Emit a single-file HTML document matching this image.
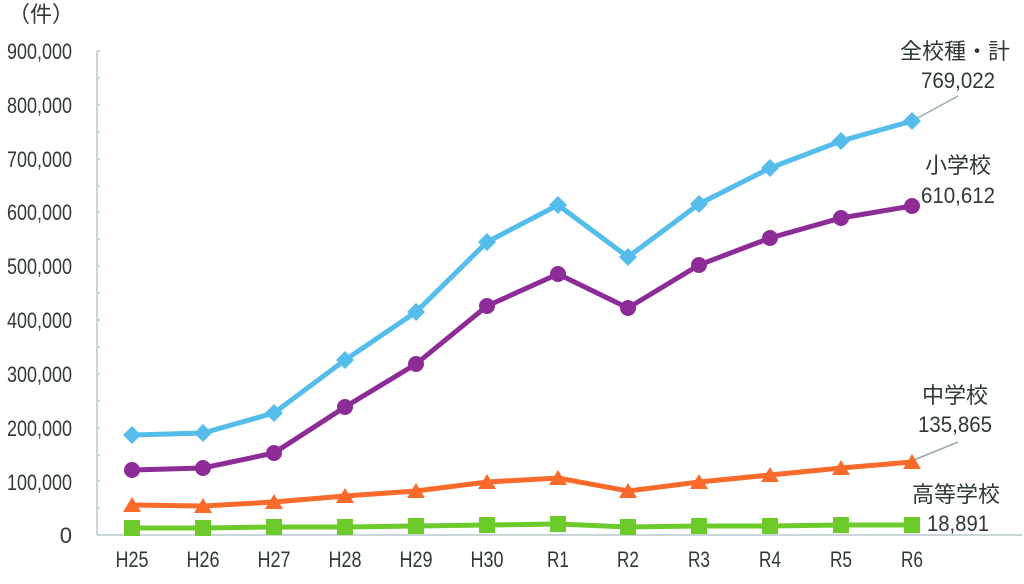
<!DOCTYPE html>
<html><head><meta charset="utf-8"><style>
body{margin:0;background:#fff;}
svg text{font-family:"Liberation Sans","Noto Sans CJK JP",sans-serif;fill:#2e3838;font-size:22px;}
</style></head><body>
<svg width="1024" height="579" xmlns="http://www.w3.org/2000/svg">
<text x="8" y="22" font-size="21" style="font-family:'Noto Sans CJK JP',sans-serif">（件）</text>
<g text-anchor="end">
<text x="72" y="59" textLength="65" lengthAdjust="spacingAndGlyphs">900,000</text><text x="72" y="113" textLength="65" lengthAdjust="spacingAndGlyphs">800,000</text><text x="72" y="167" textLength="65" lengthAdjust="spacingAndGlyphs">700,000</text>
<text x="72" y="220" textLength="65" lengthAdjust="spacingAndGlyphs">600,000</text><text x="72" y="274" textLength="65" lengthAdjust="spacingAndGlyphs">500,000</text><text x="72" y="328" textLength="65" lengthAdjust="spacingAndGlyphs">400,000</text>
<text x="72" y="382" textLength="65" lengthAdjust="spacingAndGlyphs">300,000</text><text x="72" y="436" textLength="65" lengthAdjust="spacingAndGlyphs">200,000</text><text x="72" y="490" textLength="65" lengthAdjust="spacingAndGlyphs">100,000</text>
<text x="72" y="543">0</text></g>
<g stroke="#c8d6da" stroke-width="2" fill="none">
<line x1="97" y1="51" x2="97" y2="535"/><line x1="97" y1="535" x2="1022" y2="535"/>
<path d="M97 51h3M97 78h3M97 105h3M97 132h3M97 159h3M97 186h3M97 212h3M97 239h3M97 266h3M97 293h3M97 320h3M97 347h3M97 374h3M97 401h3M97 428h3M97 455h3M97 481h3M97 508h3"/>
</g>
<g text-anchor="middle">
<text x="132" y="567" textLength="33" lengthAdjust="spacingAndGlyphs">H25</text><text x="203" y="567" textLength="33" lengthAdjust="spacingAndGlyphs">H26</text><text x="274" y="567" textLength="33" lengthAdjust="spacingAndGlyphs">H27</text><text x="345" y="567" textLength="33" lengthAdjust="spacingAndGlyphs">H28</text><text x="416" y="567" textLength="33" lengthAdjust="spacingAndGlyphs">H29</text><text x="487" y="567" textLength="33" lengthAdjust="spacingAndGlyphs">H30</text><text x="558" y="567" textLength="22" lengthAdjust="spacingAndGlyphs">R1</text><text x="628" y="567" textLength="22" lengthAdjust="spacingAndGlyphs">R2</text><text x="699" y="567" textLength="22" lengthAdjust="spacingAndGlyphs">R3</text><text x="770" y="567" textLength="22" lengthAdjust="spacingAndGlyphs">R4</text><text x="841" y="567" textLength="22" lengthAdjust="spacingAndGlyphs">R5</text><text x="912" y="567" textLength="22" lengthAdjust="spacingAndGlyphs">R6</text>
</g>
<g stroke="#9aa8aa" stroke-width="1.5"><line x1="914" y1="120" x2="958" y2="96"/><line x1="914" y1="460" x2="958" y2="442"/></g>
<polyline fill="none" stroke="#54bdec" stroke-width="5" points="132,435 203,433 274,413 345,360 416,312 487,242 558,205 628,257 699,204 770,168 841,141 912,121"/>
<g fill="#54bdec"><path d="M132 426l9 9-9 9-9-9z"/><path d="M203 424l9 9-9 9-9-9z"/><path d="M274 404l9 9-9 9-9-9z"/><path d="M345 351l9 9-9 9-9-9z"/><path d="M416 303l9 9-9 9-9-9z"/><path d="M487 233l9 9-9 9-9-9z"/><path d="M558 196l9 9-9 9-9-9z"/><path d="M628 248l9 9-9 9-9-9z"/><path d="M699 195l9 9-9 9-9-9z"/><path d="M770 159l9 9-9 9-9-9z"/><path d="M841 132l9 9-9 9-9-9z"/><path d="M912 112l9 9-9 9-9-9z"/></g>
<polyline fill="none" stroke="#8e2c97" stroke-width="5" points="132,470 203,468 274,453 345,407 416,364 487,306 558,274 628,308 699,265 770,238 841,218 912,206"/>
<g fill="#8e2c97"><circle cx="132" cy="470" r="8"/><circle cx="203" cy="468" r="8"/><circle cx="274" cy="453" r="8"/><circle cx="345" cy="407" r="8"/><circle cx="416" cy="364" r="8"/><circle cx="487" cy="306" r="8"/><circle cx="558" cy="274" r="8"/><circle cx="628" cy="308" r="8"/><circle cx="699" cy="265" r="8"/><circle cx="770" cy="238" r="8"/><circle cx="841" cy="218" r="8"/><circle cx="912" cy="206" r="8"/></g>
<polyline fill="none" stroke="#fa6a2a" stroke-width="5" points="132,505 203,506 274,502 345,496 416,491 487,482 558,478 628,491 699,482 770,475 841,468 912,462"/>
<g fill="#fa6a2a"><path d="M132 497l9 15h-18z"/><path d="M203 498l9 15h-18z"/><path d="M274 494l9 15h-18z"/><path d="M345 488l9 15h-18z"/><path d="M416 483l9 15h-18z"/><path d="M487 474l9 15h-18z"/><path d="M558 470l9 15h-18z"/><path d="M628 483l9 15h-18z"/><path d="M699 474l9 15h-18z"/><path d="M770 467l9 15h-18z"/><path d="M841 460l9 15h-18z"/><path d="M912 454l9 15h-18z"/></g>
<polyline fill="none" stroke="#6ccb2a" stroke-width="5" points="132,528 203,528 274,527 345,527 416,526 487,525 558,524 628,527 699,526 770,526 841,525 912,525"/>
<g fill="#6ccb2a"><rect x="124" y="520" width="16" height="16"/><rect x="195" y="520" width="16" height="16"/><rect x="266" y="519" width="16" height="16"/><rect x="337" y="519" width="16" height="16"/><rect x="408" y="518" width="16" height="16"/><rect x="479" y="517" width="16" height="16"/><rect x="550" y="516" width="16" height="16"/><rect x="620" y="519" width="16" height="16"/><rect x="691" y="518" width="16" height="16"/><rect x="762" y="518" width="16" height="16"/><rect x="833" y="517" width="16" height="16"/><rect x="904" y="517" width="16" height="16"/></g>
<g text-anchor="middle">
<text x="955" y="59" font-size="21">全校種・計</text><text x="958" y="88" textLength="74" lengthAdjust="spacingAndGlyphs">769,022</text>
<text x="958" y="173" font-size="21">小学校</text><text x="958" y="203" textLength="74" lengthAdjust="spacingAndGlyphs">610,612</text>
<text x="955" y="403" font-size="21">中学校</text><text x="955" y="432" textLength="74" lengthAdjust="spacingAndGlyphs">135,865</text>
<text x="956" y="502" font-size="21">高等学校</text><text x="958" y="531" textLength="62" lengthAdjust="spacingAndGlyphs">18,891</text>
</g>
</svg>
</body></html>
